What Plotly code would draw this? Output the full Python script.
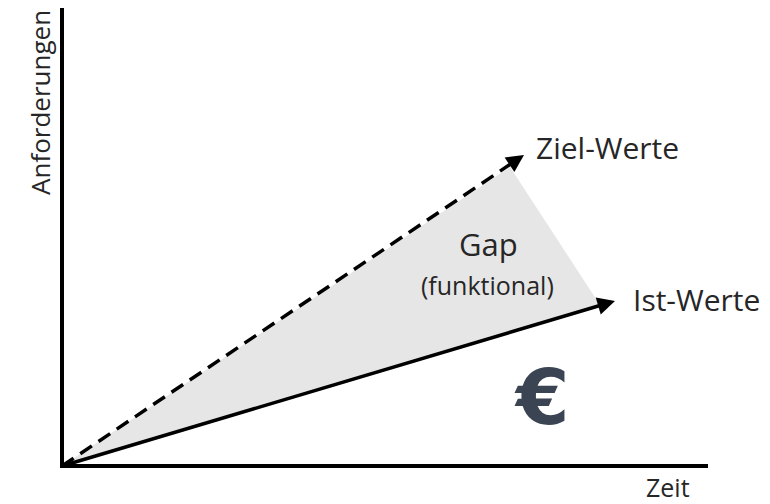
import plotly.graph_objects as go
import numpy as np

# --- data (Zeit vs. Anforderungen, arbitrary units) ---
axis_x_max = 646
axis_y_max = 459
ziel_zeit = [0, 462]
ziel_anf = [0, 311]
ist_zeit = [0, 553]
ist_anf = [0, 165]
gap_zeit = [0, 448, 538]
gap_anf = [0, 299, 161]

labels = {
    "ziel": "Ziel-Werte",
    "ist": "Ist-Werte",
    "gap": "Gap",
    "gap_sub": "(funktional)",
    "x": "Zeit",
    "y": "Anforderungen",
    "euro": "€",
}

FONT = "Open Sans"
TXT = "#262626"

fig = go.Figure()

# gap area
fig.add_trace(go.Scatter(
    x=gap_zeit + [gap_zeit[0]], y=gap_anf + [gap_anf[0]],
    fill="toself", fillcolor="#e6e6e6", line=dict(width=0),
    mode="lines", hoverinfo="skip", showlegend=False))


def shaft_end(xs, ys, back=14):
    d = np.array([xs[1] - xs[0], ys[1] - ys[0]], dtype=float)
    d /= np.linalg.norm(d)
    return xs[1] - back * d[0], ys[1] - back * d[1]


# Ziel line (dashed)
zx, zy = shaft_end(ziel_zeit, ziel_anf)
fig.add_trace(go.Scatter(
    x=[ziel_zeit[0], zx], y=[ziel_anf[0], zy], mode="lines",
    line=dict(color="black", width=3.5, dash="14px,8px"),
    hoverinfo="skip", showlegend=False))

# Ist line (solid)
ix, iy = shaft_end(ist_zeit, ist_anf)
fig.add_trace(go.Scatter(
    x=[ist_zeit[0], ix], y=[ist_anf[0], iy], mode="lines",
    line=dict(color="black", width=3.5),
    hoverinfo="skip", showlegend=False))

# axes
fig.add_trace(go.Scatter(
    x=[0, 0, axis_x_max], y=[axis_y_max, 0, 0], mode="lines",
    line=dict(color="black", width=4),
    hoverinfo="skip", showlegend=False))

# arrow heads
for (xs, ys) in [(ziel_zeit, ziel_anf), (ist_zeit, ist_anf)]:
    sx, sy = shaft_end(xs, ys, back=16)
    fig.add_annotation(x=xs[1], y=ys[1], ax=sx, ay=sy, axref="x", ayref="y",
                       xref="x", yref="y", text="", showarrow=True,
                       arrowhead=2, arrowsize=1, arrowwidth=3.5,
                       arrowcolor="black")

# texts
fig.add_annotation(x=ziel_zeit[1] + 10, y=ziel_anf[1] + 8, text=labels["ziel"],
                   showarrow=False, xanchor="left", yanchor="middle",
                   font=dict(family=FONT, size=30, color=TXT))
fig.add_annotation(x=ist_zeit[1] + 16, y=ist_anf[1] + 2, text=labels["ist"],
                   showarrow=False, xanchor="left", yanchor="middle",
                   font=dict(family=FONT, size=30, color=TXT))
fig.add_annotation(x=426, y=222, text=labels["gap"], showarrow=False,
                   xanchor="center", yanchor="middle",
                   font=dict(family=FONT, size=31, color=TXT))
fig.add_annotation(x=425, y=181, text=labels["gap_sub"], showarrow=False,
                   xanchor="center", yanchor="middle",
                   font=dict(family=FONT, size=25, color=TXT))
fig.add_annotation(x=582, y=-21, text=labels["x"], showarrow=False,
                   xanchor="left", yanchor="middle",
                   font=dict(family=FONT, size=25, color=TXT))
fig.add_annotation(x=-22, y=363, text=labels["y"], showarrow=False,
                   textangle=-90, xanchor="center", yanchor="middle",
                   font=dict(family=FONT, size=26, color=TXT))
fig.add_annotation(x=480, y=69, text="<b>" + labels["euro"] + "</b>",
                   showarrow=False, xanchor="center", yanchor="middle",
                   font=dict(family="DejaVu Sans", size=77, color="#3b4452"))

# the page body has an 8px margin; the figure is sized/ranged so that the
# drawing lands where it belongs in the 770x504 window
fig.update_layout(
    width=762, height=496,
    margin=dict(l=0, r=0, t=0, b=0),
    paper_bgcolor="white", plot_bgcolor="white",
    xaxis=dict(range=[-54, 708], visible=False, fixedrange=True),
    yaxis=dict(range=[-38, 458], visible=False, fixedrange=True),
    showlegend=False,
)

fig.write_html("out.html")
